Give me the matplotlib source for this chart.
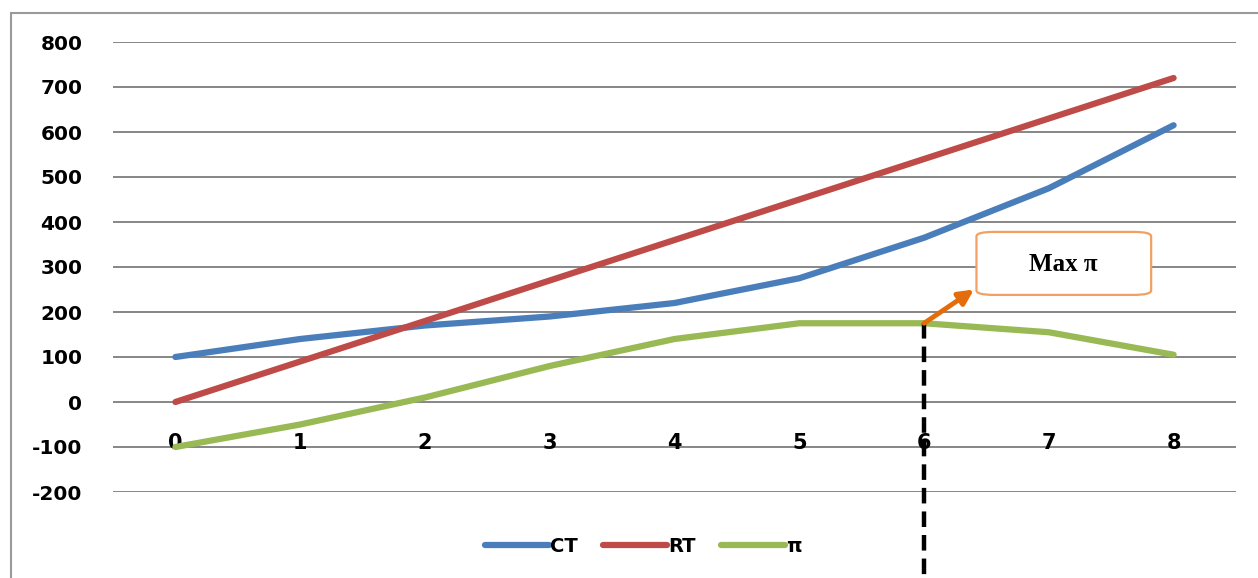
import matplotlib
matplotlib.use("Agg")
import matplotlib.pyplot as plt
from matplotlib.patches import Rectangle, FancyBboxPatch

# -----------------------------
# Data
# -----------------------------

quantity = [0, 1, 2, 3, 4, 5, 6, 7, 8]
ct = [100, 140, 170, 190, 220, 275, 365, 475, 615]
rt = [0, 90, 180, 270, 360, 450, 540, 630, 720]
profit = [r - c for r, c in zip(rt, ct)]

y_ticks = [-200, -100, 0, 100, 200, 300, 400, 500, 600, 700, 800]
best_q = 6

# -----------------------------
# Figure
# -----------------------------

plt.rcParams["font.family"] = "DejaVu Sans"

W, H = 1258, 578
fig = plt.figure(figsize=(W / 100, H / 100), dpi=100)
ax = fig.add_axes([113 / W, (H - 492) / H, 1123 / W, 450 / H])

# outer chart frame
fig.patches.append(Rectangle((11 / W, -0.2), 1.2, 1.2 - 13 / H,
                             transform=fig.transFigure, fill=False,
                             edgecolor="#9a9a9a", lw=1.5))

ax.set_xlim(-0.5, 8.5)
ax.set_ylim(-200, 800)

for y in y_ticks:
    ax.axhline(y, color="#868686", lw=1.4, zorder=1)

line_kw = dict(lw=4.5, solid_capstyle="round", solid_joinstyle="round", zorder=3)
ax.plot(quantity, ct, color="#4A7EBB", label="CT", **line_kw)
ax.plot(quantity, rt, color="#BE4B48", label="RT", **line_kw)
ax.plot(quantity, profit, color="#98B954", label="π", **line_kw)

# axis crosses at zero, labels sit below it
ax.spines["bottom"].set_position(("data", 0))
for side in ["left", "right", "top", "bottom"]:
    ax.spines[side].set_visible(False)

ax.set_xticks(quantity)
ax.set_xticklabels([str(q) for q in quantity], fontsize=15, fontweight="bold")
ax.tick_params(axis="x", length=0, pad=22)

ax.set_yticks(y_ticks)
ax.set_yticklabels([str(y) for y in y_ticks], fontsize=14.5, fontweight="bold")
ax.tick_params(axis="y", length=0, pad=22)

# dashed marker at the profit maximum
ax.plot([best_q, best_q], [profit[best_q], -420], color="black", lw=3.2,
        ls=(0, (3.5, 1.8)), clip_on=False, zorder=4)

# callout box
ax.add_patch(FancyBboxPatch((6.42, 238), 1.4, 140,
                            boxstyle="round,pad=0,rounding_size=0.14",
                            mutation_aspect=70,
                            fc="white", ec="#F2A062", lw=1.6, zorder=5))
ax.text(7.12, 305, "Max π", ha="center", va="center", fontsize=18,
        fontweight="bold", family=["Liberation Serif", "DejaVu Serif"],
        zorder=6)

ax.annotate("", xy=(6.4, 250), xytext=(best_q, profit[best_q]),
            arrowprops=dict(arrowstyle="-|>", color="#E46C0A", lw=3.5,
                            mutation_scale=22, shrinkA=0, shrinkB=0),
            zorder=6)

fig.legend(loc="center", bbox_to_anchor=(643 / W, 1 - 546 / H), ncol=3,
           frameon=False, handlelength=3.3, handletextpad=0.05,
           columnspacing=1.3, prop=dict(size=14, weight="bold"))

fig.savefig("out.png", dpi=100)
